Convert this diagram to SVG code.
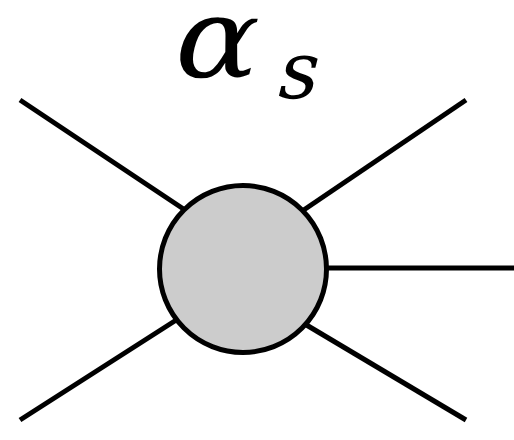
<svg xmlns="http://www.w3.org/2000/svg" width="514" height="440" viewBox="0 0 514 440">
<style>
.leg{stroke:#000;stroke-width:5;stroke-linecap:butt;fill:none}
.blob{fill:#cccccc;stroke:#000;stroke-width:5}
.lbl{font-family:"DejaVu Serif","Liberation Serif",serif;font-style:normal;fill:#000}
</style>
<rect width="514" height="440" fill="#fff"/>
<g id="connectors">
<line class="leg" x1="20" y1="100" x2="200" y2="220"/>
<line class="leg" x1="466" y1="100" x2="286" y2="222"/>
<line class="leg" x1="300" y1="268" x2="514" y2="268"/>
<line class="leg" x1="20" y1="420" x2="195" y2="308"/>
<line class="leg" x1="466" y1="420" x2="288" y2="314"/>
</g>
<g id="vertex">
<circle class="blob" cx="243" cy="269" r="83.5"/>
</g>
<g id="label">
<text class="lbl" x="0" y="0" font-size="112" textLength="84" lengthAdjust="spacingAndGlyphs" transform="translate(168 77) skewX(-14)">α</text>
<text class="lbl" x="0" y="0" font-size="80" textLength="40" lengthAdjust="spacingAndGlyphs" transform="translate(274 98) skewX(-14)">s</text>
</g>
</svg>
